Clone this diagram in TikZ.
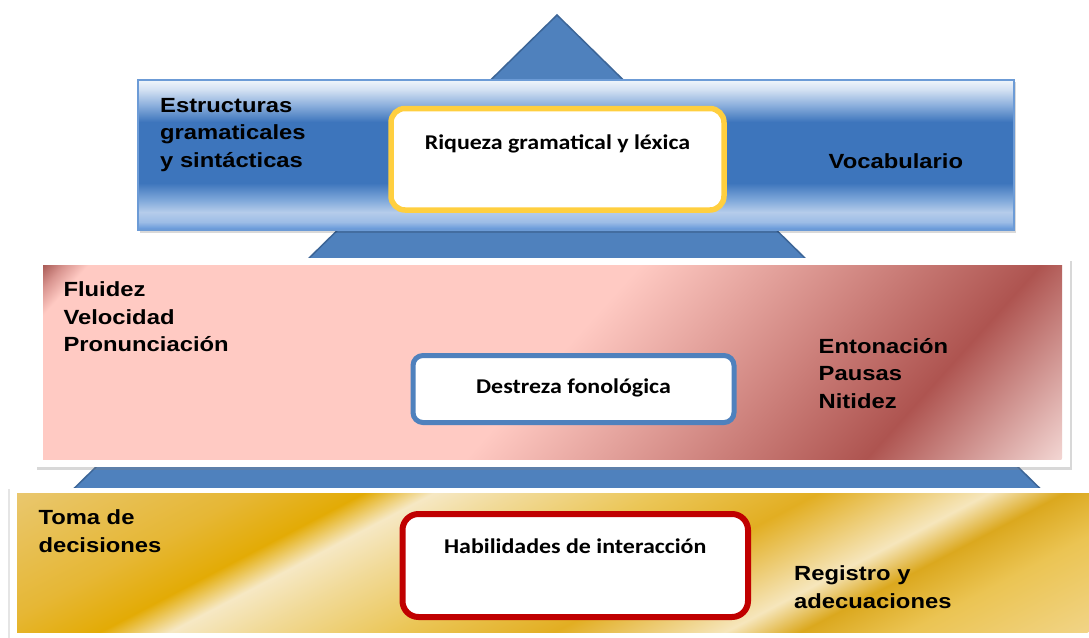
\documentclass[tikz,border=0pt]{standalone}
\usepackage{fontspec}
\usetikzlibrary{calc,shadows}

\newfontfamily\lblfont[FakeStretch=1.16]{Liberation Sans}
\newfontfamily\boxfont[FakeStretch=1.14]{Carlito}

\definecolor{triblue}{HTML}{4F81BD}
\definecolor{triline}{HTML}{3C6597}
\definecolor{bandline}{HTML}{6C9BD6}
\definecolor{ringgold}{HTML}{FFCF3F}
\definecolor{ringblue}{HTML}{4F81BD}
\definecolor{ringred}{HTML}{C00000}

%% blue band, bottom (25bp) to top (75bp)
\definecolor{bb1}{HTML}{5E93D8}
\definecolor{bb2}{HTML}{9DBDE6}
\definecolor{bb3}{HTML}{B5CCEA}
\definecolor{bb4}{HTML}{7FA8DA}
\definecolor{bb5}{HTML}{3D75BC}
\definecolor{bb6}{HTML}{8DB0DD}
\definecolor{bb7}{HTML}{D2E0F2}
\definecolor{bb8}{HTML}{F0F5FB}
\pgfdeclareverticalshading{bandblue}{100bp}{color(0bp)=(bb1); color(25bp)=(bb1);
  color(27.7bp)=(bb2); color(31bp)=(bb3); color(35bp)=(bb4); color(40.7bp)=(bb5);
  color(61bp)=(bb5); color(66.7bp)=(bb6); color(71.7bp)=(bb7); color(75bp)=(bb8);
  color(100bp)=(bb8)}

%% pink band, along the diagonal (top left 25bp, bottom right 75bp)
\definecolor{pk0}{HTML}{A85A55}
\definecolor{pk1}{HTML}{D99590}
\definecolor{pk2}{HTML}{FFCAC3}
\definecolor{pk3}{HTML}{AE5450}
\definecolor{pk4}{HTML}{F3D6D3}
\pgfdeclarehorizontalshading{pinkband}{100bp}{color(0bp)=(pk0); color(25bp)=(pk0);
  color(25.9bp)=(pk1); color(26.9bp)=(pk2); color(50bp)=(pk2); color(66.8bp)=(pk3);
  color(75bp)=(pk4); color(100bp)=(pk4)}

%% gold band, along the diagonal (top left 25bp, bottom right 75bp)
\definecolor{gd1}{HTML}{E9C76E}
\definecolor{gd2}{HTML}{E6B735}
\definecolor{gd3}{HTML}{E3AB05}
\definecolor{gd4}{HTML}{F6E8C4}
\definecolor{gd5}{HTML}{F1DA98}
\definecolor{gd6}{HTML}{EBC657}
\definecolor{gd7}{HTML}{E2AE22}
\definecolor{gd8}{HTML}{F6E6BC}
\definecolor{gd9}{HTML}{DBA81E}
\definecolor{gd10}{HTML}{EBC453}
\definecolor{gd11}{HTML}{F1D486}
\pgfdeclarehorizontalshading{goldband}{100bp}{color(0bp)=(gd1); color(25bp)=(gd1);
  color(33.7bp)=(gd2); color(38bp)=(gd3); color(40.6bp)=(gd4); color(43.8bp)=(gd5);
  color(49.1bp)=(gd6); color(55bp)=(gd7); color(61.4bp)=(gd8); color(64.2bp)=(gd9);
  color(68.2bp)=(gd10); color(75bp)=(gd11); color(100bp)=(gd11)}

\begin{document}
\begin{tikzpicture}[x=1pt,y=-1pt,
  tri/.style={fill=triblue,draw=triline,line width=1.5pt},
  band/.style={draw=bandline,line width=1.2pt,shading=bandblue},
  frame/.style={fill=white,drop shadow={shadow xshift=1.5pt,shadow yshift=-2.5pt,opacity=.3}},
  ring/.style={draw=#1,fill=white,outer sep=0pt,inner sep=0pt},
  lbl/.style={font=\lblfont\bfseries\fontsize{20.5}{27.5}\selectfont,align=left,inner sep=0pt},
  boxtxt/.style={font=\boxfont\bfseries\fontsize{21}{25}\selectfont,inner sep=0pt}]

  \useasboundingbox[fill=white] (0,0) rectangle (1089,637);

  %% pyramid behind the bands
  \coordinate (apex) at (557,15);
  \draw[tri] (apex) -- (1041.5,490) -- (72.5,490) -- cycle;

  %% top band
  \fill[black,opacity=.15] (139.5,82) rectangle (1016,233);
  \shade[band] (138,80) rectangle (1014,230);
  \node[ring=ringgold,line width=5.5pt,rounded corners=14pt,
        minimum width=333pt,minimum height=101.5pt] (riq) at (557.5,159.25) {};
  \node[boxtxt,anchor=base] (riqtxt) at ($(riq.north)+(0,40.5)$) {Riqueza gramatical y léxica};

  \node[lbl,anchor=base west] (estr) at (160,167) {Estructuras\\gramaticales\\y sintácticas};
  \node[lbl,anchor=base west] (voc) at (828.5,168.3) {Vocabulario};

  %% middle band
  \fill[frame] (35,258) rectangle (1070,467);
  \begin{scope}
    \clip (43,265) rectangle (1062,459);
    \begin{scope}[transform canvas={rotate=-42}]
      \shade[shading=pinkband] (209.2,-520) rectangle (1096.2,320);
    \end{scope}
  \end{scope}
  \node[ring=ringblue,line width=5pt,rounded corners=10pt,
        minimum width=321pt,minimum height=67pt] (des) at (573.5,389) {};
  \node[boxtxt,anchor=base] (destxt) at ($(des.north)+(0,37.5)$) {Destreza fonológica};

  \node[lbl,anchor=base west] (flu) at (63.3,351.7) {Fluidez\\Velocidad\\Pronunciación};
  \node[lbl,anchor=base west] (ento) at (818.5,408) {Entonación\\Pausas\\Nitidez};

  %% bottom band
  \fill[frame,drop shadow={shadow xshift=-2pt,shadow yshift=-1pt,opacity=.2}] (10,488) rectangle (1100,645);
  \begin{scope}
    \clip (17,493) rectangle (1089,632);
    \begin{scope}[transform canvas={rotate=-62.24}]
      \shade[shading=goldband] (444.1,-740) rectangle (1066.4,285);
    \end{scope}
  \end{scope}
  \node[ring=ringred,line width=6pt,rounded corners=16pt,
        minimum width=345.5pt,minimum height=103pt] (hab) at (575.25,565.5) {};
  \node[boxtxt,anchor=base] (habtxt) at ($(hab.north)+(0,39.3)$) {Habilidades de interacción};

  \node[lbl,anchor=base west] (toma) at (38.3,552) {Toma de\\decisiones};
  \node[lbl,anchor=base west] (reg) at (794,608) {Registro y\\adecuaciones};

\end{tikzpicture}
\end{document}
